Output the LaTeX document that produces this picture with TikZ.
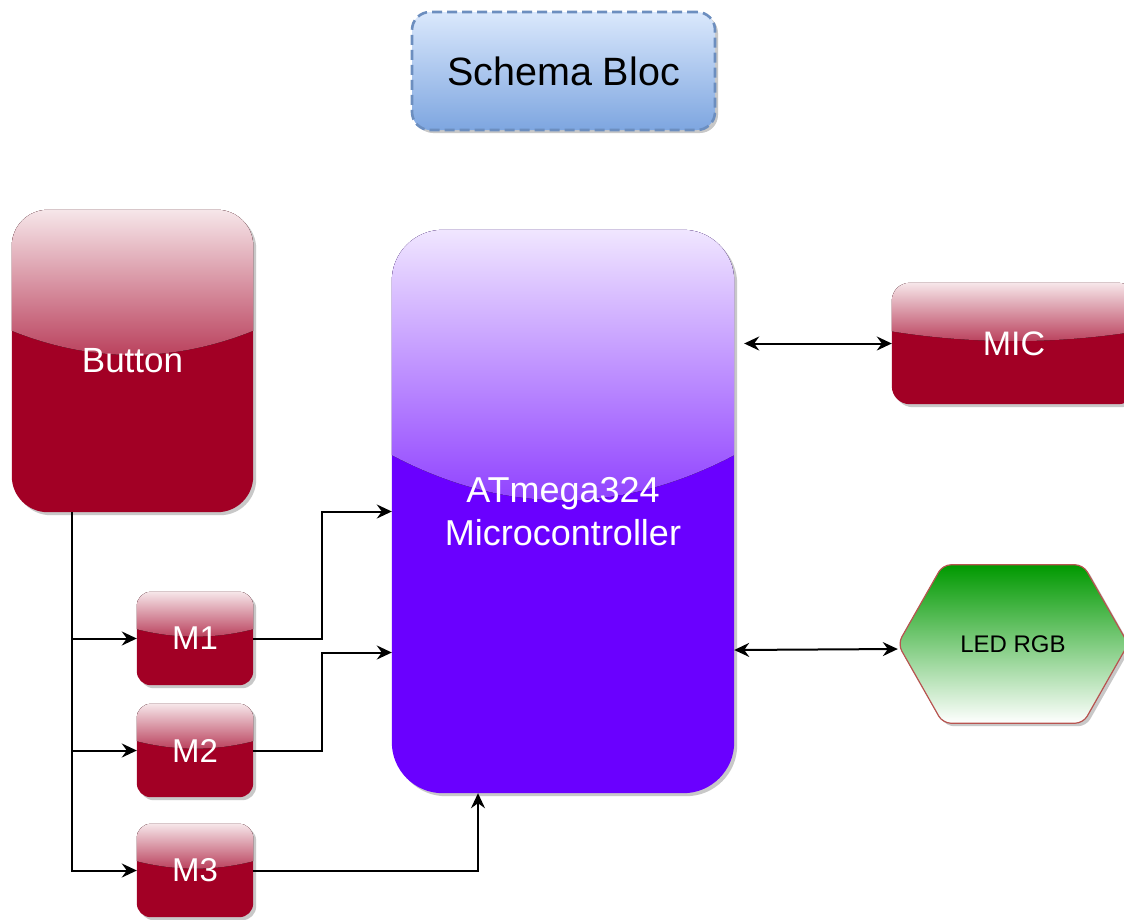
\documentclass[tikz,border=0pt]{standalone}
\usepackage{fontspec}
\setmainfont{Liberation Sans}
\usetikzlibrary{calc,arrows.meta,shadows,backgrounds}
\definecolor{crim}{HTML}{A20025}
\definecolor{crimtop}{RGB}{246,230,233}
\definecolor{crimbot}{RGB}{183,57,86}
\definecolor{vio}{HTML}{6A00FF}
\definecolor{viotop}{RGB}{240,230,255}
\definecolor{viobot}{RGB}{139,57,255}
\definecolor{ledgreen}{HTML}{009900}
\definecolor{ledstroke}{HTML}{B85450}
\definecolor{bltop}{HTML}{DAE8FC}
\definecolor{blbot}{HTML}{7EA6E0}
\definecolor{blstroke}{HTML}{6C8EBF}
\tikzset{
  shad/.style={drop shadow={shadow xshift=3pt,shadow yshift=-3pt,opacity=0.3,fill=black!70}},
  boxtext/.style={text=white, inner sep=0pt, align=center},
  conn/.style={line width=2pt, -{Stealth[length=15pt,width=14pt,inset=5pt]}},
  conn2/.style={line width=2pt, {Stealth[length=15pt,width=14pt,inset=5pt]}-{Stealth[length=15pt,width=14pt,inset=5pt]}}
}
% name, radius, base colour, glass top colour, glass bottom colour
\newcommand\glassbox[5]{%
  \fill[shad, fill=#3, rounded corners=#2] (#1.north west) rectangle (#1.south east);
  \begin{scope}
    \clip[rounded corners=#2] (#1.north west) rectangle (#1.south east);
    \fill[top color=#4, bottom color=#5] let \p1=(#1.north west), \p2=(#1.south east) in
      (\x1,\y1) -- (\x2,\y1) -- ({\x2},{\y1-0.4*(\y1-\y2)})
      .. controls ({\x2-(\x2-\x1)/3},{\y1-0.5067*(\y1-\y2)}) and ({\x1+(\x2-\x1)/3},{\y1-0.5067*(\y1-\y2)}) ..
      ({\x1},{\y1-0.4*(\y1-\y2)}) -- cycle;
  \end{scope}}
\begin{document}
\begin{tikzpicture}[x=1pt,y=-1pt]
\useasboundingbox (0,0) rectangle (1124,919);

% title
\node[shad, top color=bltop, bottom color=blbot, draw=blstroke, line width=2.6pt,
      dash pattern=on 10pt off 5pt, rounded corners=18pt, inner sep=0pt,
      minimum width=303pt, minimum height=118pt,
      font=\fontsize{39.5}{46}\selectfont] (title) at (563.5,71) {Schema Bloc};

% button
\node[boxtext, minimum width=241pt, minimum height=302pt,
      font=\fontsize{35}{42}\selectfont] (button) at (132.5,361) {Button};

% M boxes
\node[boxtext, minimum width=116pt, minimum height=93pt,
      font=\fontsize{33}{40}\selectfont] (m1) at (195,638.5) {M1};
\node[boxtext, minimum width=116pt, minimum height=93pt,
      font=\fontsize{33}{40}\selectfont] (m2) at (195,750.5) {M2};
\node[boxtext, minimum width=116pt, minimum height=93pt,
      font=\fontsize{33}{40}\selectfont] (m3) at (195,870.5) {M3};

% MCU
\node[boxtext, minimum width=342pt, minimum height=563pt,
      font=\fontsize{36}{43}\selectfont] (mcu) at (563,511.5) {ATmega324\\Microcontroller};

% MIC
\node[boxtext, minimum width=244pt, minimum height=121pt,
      font=\fontsize{34}{40}\selectfont] (mic) at (1014,343.5) {MIC};

% LED RGB
\node[inner sep=0pt, minimum width=230pt, minimum height=158pt,
      font=\fontsize{24}{29}\selectfont] (led) at (1013,644) {LED RGB};

\begin{scope}[on background layer]
  \fill[white] (0,0) rectangle (1124,919);
  \glassbox{button}{36pt}{crim}{crimtop}{crimbot}
  \glassbox{m1}{14pt}{crim}{crimtop}{crimbot}
  \glassbox{m2}{14pt}{crim}{crimtop}{crimbot}
  \glassbox{m3}{14pt}{crim}{crimtop}{crimbot}
  \glassbox{mic}{18pt}{crim}{crimtop}{crimbot}
  \glassbox{mcu}{51pt}{vio}{viotop}{viobot}
  \filldraw[shad, top color=ledgreen, bottom color=white, draw=ledstroke, line width=1.2pt,
            rounded corners=8pt]
    (led.west) -- ($(led.north west)+(45,0)$) -- ($(led.north east)+(-45,0)$) -- (led.east)
    -- ($(led.south east)+(-45,0)$) -- ($(led.south west)+(45,0)$) -- cycle;
\end{scope}

% connectors
\coordinate (bt) at ($(button.south west)+(60,0)$);
\draw[conn] (bt) |- (m3.west);
\draw[conn] (bt |- m1.west) -- (m1.west);
\draw[conn] (bt |- m2.west) -- (m2.west);
\draw[conn] (m1.east) -- ++(69,0) |- (mcu.west);
\draw[conn] (m2.east) -- ++(69,0) |- ($(mcu.west)+(0,141)$);
\draw[conn] (m3.east) -| ($(mcu.south)+(-85,0)$);
\draw[conn2] ($(mcu.east |- mic.west)+(10,0)$) -- (mic.west);
\draw[conn2] ($(mcu.east |- led.west)+(0,6)$) -- ($(led.west)+(0,5)$);
\end{tikzpicture}
\end{document}
